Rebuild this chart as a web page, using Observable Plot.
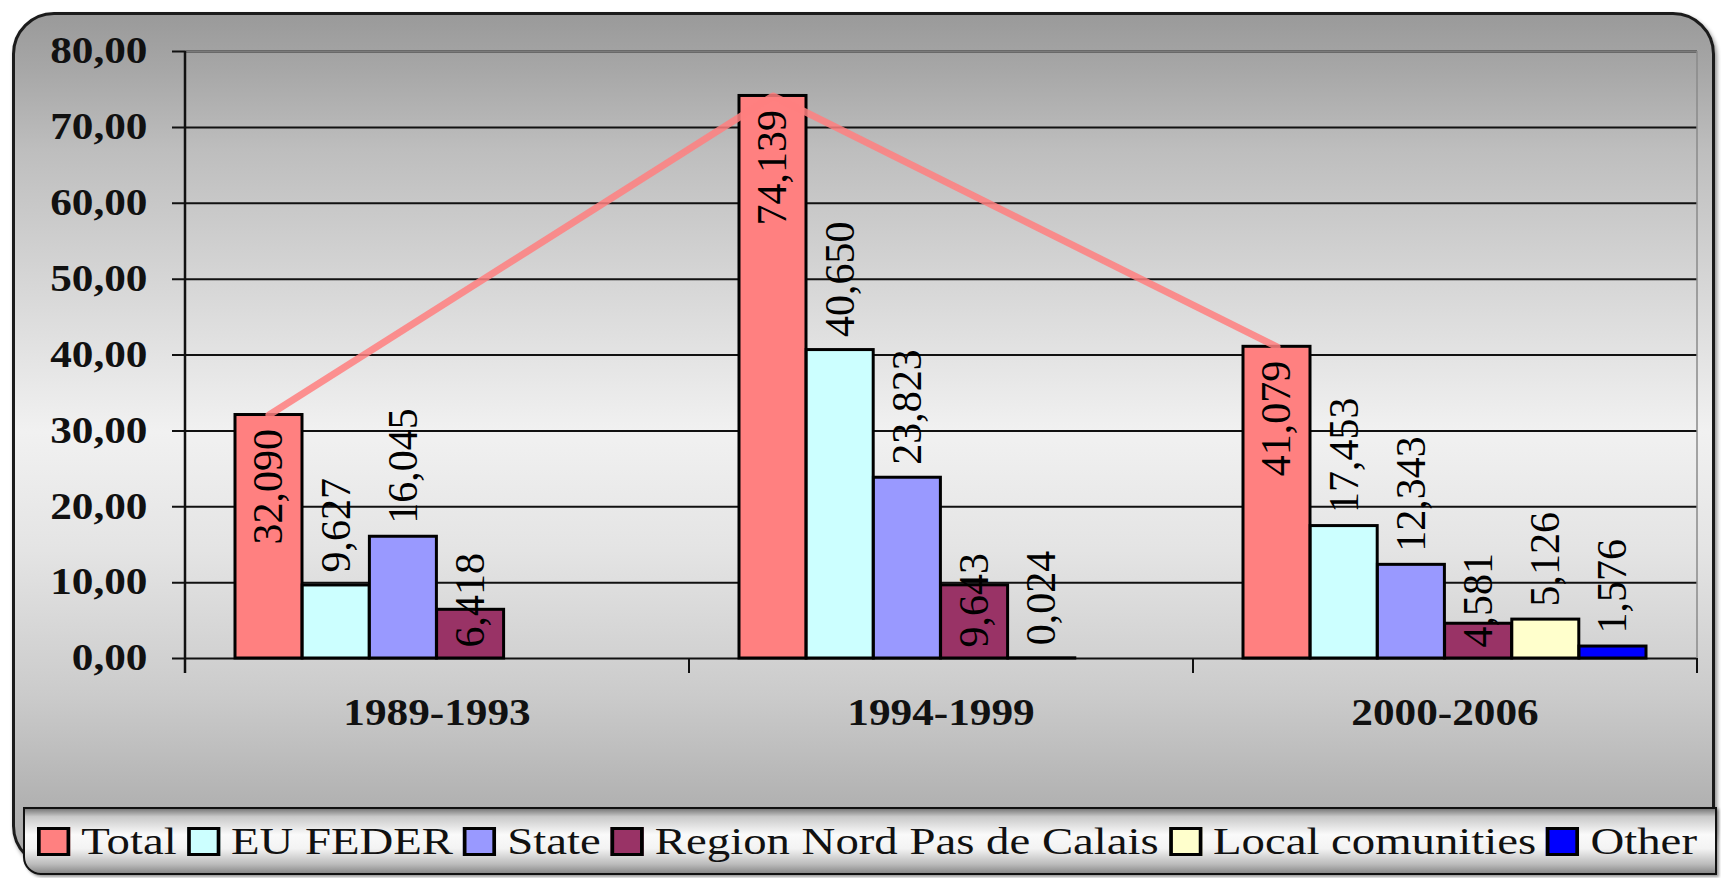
<!DOCTYPE html>
<html>
<head>
<meta charset="utf-8">
<script src="https://cdn.jsdelivr.net/npm/d3@7"></script>
<script src="https://cdn.jsdelivr.net/npm/@observablehq/plot@0.6"></script>
<style>
html, body { margin: 0; padding: 0; background: #fff; }
#wrap { position: relative; width: 1721px; height: 878px; overflow: hidden; font-family: 'Liberation Serif', serif; }
#frame { position: absolute; left: 12px; top: 12px; width: 1697px; height: 850px; border: 3px solid #1b1b1b; border-radius: 42px;
  background: linear-gradient(to bottom, #9a9a9a 0%, #a6a6a6 6%, #bebebe 16%, #dadada 34%, #f1f1f1 49%, #e4e4e4 63%, #cbcbcb 80%, #b3b3b3 92%, #a8a8a8 100%);
  box-shadow: 2px 3px 4px rgba(0,0,0,.45); }
#chart { position: absolute; left: 0; top: 0; }
#legend { position: absolute; left: 23px; top: 807px; width: 1690px; height: 64px; border: 2px solid #111; border-radius: 0 0 0 18px;
  background: linear-gradient(to bottom, #7a7a7a 0%, #c9c9c9 12%, #fafafa 40%, #f3f3f3 62%, #bcbcbc 86%, #8a8a8a 100%); overflow: hidden;
  box-shadow: 2px 2px 3px rgba(0,0,0,.4); }
#legrow { position: absolute; left: 12px; top: 0; height: 64px; display: flex; align-items: center; white-space: nowrap; transform-origin: left center; font-family: 'Liberation Serif', serif; font-size: 38px; color: #111; }
.item { display: flex; align-items: center; margin-right: 8px; }
.sw { width: 21px; height: 23px; border: 3px solid #000; margin-right: 9px; box-sizing: content-box; }
</style>
</head>
<body>
<div id="wrap">
  <div id="frame"></div>
  <div id="chart"></div>
  <div id="legend"><div id="legrow"></div></div>
</div>
<script>
// ---- data ----
const periods = ["1989-1993", "1994-1999", "2000-2006"];
const series = ["Total", "EU FEDER", "State", "Region Nord Pas de Calais", "Local comunities", "Other"];
const total = [32.090, 74.139, 41.079];
const euFeder = [9.627, 40.650, 17.453];
const state = [16.045, 23.823, 12.343];
const region = [6.418, 9.643, 4.581];
const local = [null, 0.024, 5.126];
const other = [null, null, 1.576];
const yTicks = [0, 10, 20, 30, 40, 50, 60, 70, 80];
const colors = ["#ff8080", "#ccffff", "#9999ff", "#993366", "#ffffcc", "#0000ff"];

// ---- layout ----
const FONT = "Liberation Serif";
const W = 1721, H = 800, mL = 185, mR = 24, mT = 51, mB = 142;
const pIn = 0.2, pOut = 0.1;
const step = (W - mL - mR) / periods.length;
const bw = step * (1 - pIn);
const w = bw / series.length;

const valuesBySeries = [total, euFeder, state, region, local, other];
const data = series.flatMap((s, i) => periods.map((p, j) => ({period: p, series: s, si: i, value: valuesBySeries[i][j]})))
  .filter(d => d.value != null);
const fmt = d => d.value.toFixed(3).replace(".", ",");

const marks = [];
// gridlines + tick stubs
marks.push(Plot.ruleY(yTicks, {y: d => d, stroke: "#111", strokeWidth: 2, insetLeft: -13}));
marks.push(Plot.ruleY([80], {y: d => d, stroke: "#7a7a7a", strokeWidth: 2}));
// right border of plot area
marks.push(Plot.ruleX([periods[periods.length - 1]], {x: d => d, dx: step / 2, y1: 0, y2: 80, stroke: "#8a8a8a", strokeWidth: 1.5}));
// bars
series.forEach((s, i) => {
  marks.push(Plot.barY(data.filter(d => d.si === i), {
    x: "period", y: "value", fill: colors[i], stroke: "#000", strokeWidth: 3,
    insetLeft: i * w, insetRight: (series.length - 1 - i) * w
  }));
});
// y axis line and category ticks
marks.push(Plot.ruleX([periods[0]], {x: d => d, dx: -step / 2, y1: 0, y2: 80, insetTop: 15, stroke: "#111", strokeWidth: 2.5}));
marks.push(Plot.ruleX(periods, {x: d => d, dx: step / 2, y1: 0, y2: 0, insetTop: 15, stroke: "#111", strokeWidth: 2}));
// total line
marks.push(Plot.line(data.filter(d => d.si === 0), {
  x: "period", y: "value", dx: (0 - 2.5) * w, stroke: "#ff7f7f", strokeWidth: 7, strokeOpacity: 0.85,
  strokeLinejoin: "round", strokeLinecap: "round"
}));
// value labels
series.forEach((s, i) => {
  const sub = data.filter(d => d.si === i);
  const common = {x: "period", text: fmt, rotate: -90, dx: (i - 2.5) * w, fontSize: 42, fontFamily: FONT, fill: "#000"};
  if (i === 0) {
    marks.push(Plot.text(sub, {...common, y: "value", textAnchor: "end", dy: 14}));
  } else if (i === 3) {
    marks.push(Plot.text(sub, {...common, y: () => 0, textAnchor: "start", dy: -11}));
  } else {
    marks.push(Plot.text(sub, {...common, y: "value", textAnchor: "start", dy: -13}));
  }
});
// y tick labels
marks.push(Plot.text(yTicks, {y: d => d, text: d => d.toFixed(2).replace(".", ","), frameAnchor: "left", textAnchor: "end", dx: -38, fontWeight: "bold", fontSize: 37, fontFamily: FONT, fill: "#111"}));
// category labels
marks.push(Plot.text(periods, {x: d => d, frameAnchor: "bottom", dy: 66, fontWeight: "bold", fontSize: 37, fontFamily: FONT, fill: "#111"}));

const chart = Plot.plot({
  width: W, height: H,
  marginLeft: mL, marginRight: mR, marginTop: mT, marginBottom: mB,
  style: {fontFamily: FONT, background: "transparent", overflow: "visible"},
  x: {type: "band", domain: periods, paddingInner: pIn, paddingOuter: pOut, axis: null},
  y: {domain: [0, 80], axis: null},
  marks
});
document.getElementById("chart").appendChild(chart);

// stretch horizontal (non-rotated) texts slightly, like the reference
const SX = 1.17;
chart.querySelectorAll("text").forEach(el => {
  const t = el.getAttribute("transform") || "";
  if (t.includes("rotate")) return;
  if (t.includes("translate")) {
    el.setAttribute("transform", t + ` scale(${SX},1)`);
  } else {
    const x = +(el.getAttribute("x") || 0), y = +(el.getAttribute("y") || 0);
    el.setAttribute("transform", `translate(${x},${y}) scale(${SX},1) translate(${-x},${-y})`);
  }
});

// legend
const row = document.getElementById("legrow");
series.forEach((s, i) => {
  const it = document.createElement("div");
  it.className = "item";
  const sw = document.createElement("div");
  sw.className = "sw";
  sw.style.background = colors[i];
  const tx = document.createElement("span");
  tx.textContent = s;
  it.appendChild(sw); it.appendChild(tx);
  row.appendChild(it);
});
const natural = row.scrollWidth;
row.style.transform = `scaleX(${1670 / natural})`;
</script>
</body>
</html>
